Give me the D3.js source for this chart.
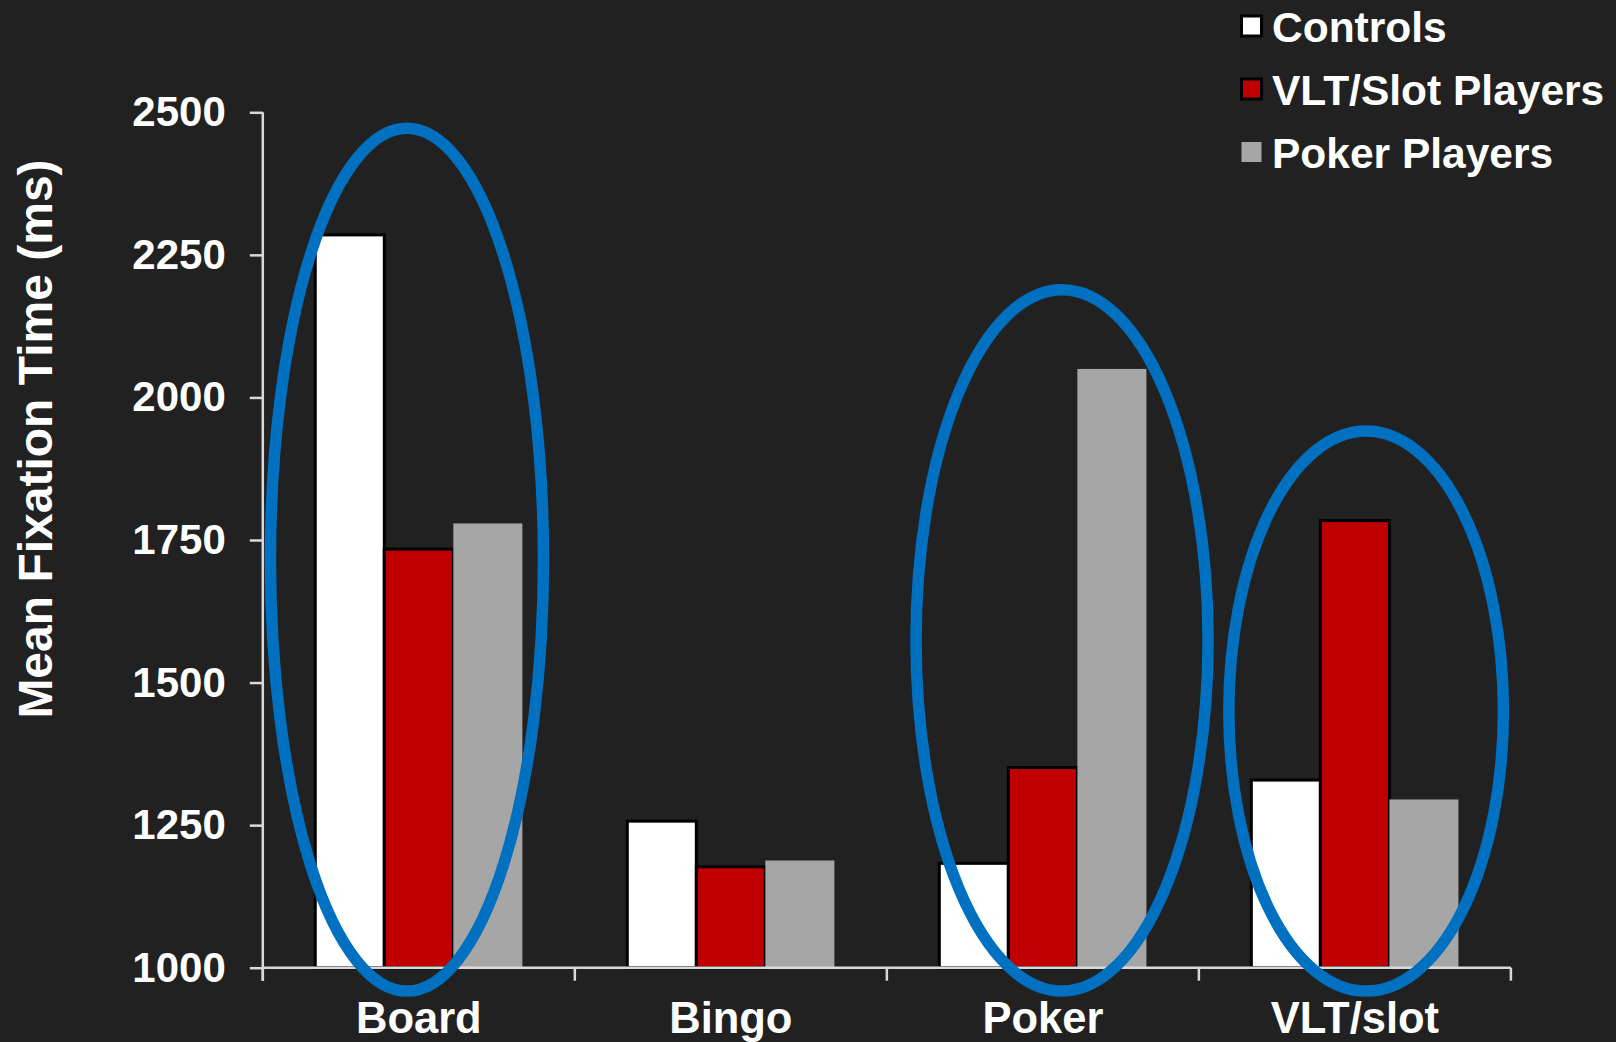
<!DOCTYPE html>
<html>
<head>
<meta charset="utf-8">
<script src="https://cdn.jsdelivr.net/npm/d3@7"></script>
<style>
  html, body { margin: 0; padding: 0; background: #212121; }
  svg { display: block; }
  text { font-family: "Liberation Sans", Arial, sans-serif; font-weight: bold; fill: #ffffff; }
</style>
</head>
<body>
<svg id="chart" width="1616" height="1042"></svg>
<script>
// Mean fixation time (ms) per game type, by participant group
const categories = ["Board", "Bingo", "Poker", "VLT/slot"];
const seriesNames = ["Controls", "VLT/Slot Players", "Poker Players"];
const controls = [2285, 1257, 1183, 1329];
const vltSlotPlayers = [1734, 1177, 1351, 1784];
const pokerPlayers = [1779, 1188, 2050, 1295];
const yTicks = [1000, 1250, 1500, 1750, 2000, 2250, 2500];

// Highlighted game types (ellipse spans in ms)
const highlightCategories = ["Board", "Poker", "VLT/slot"];
const highlightTop = [2472, 2189, 1941];
const highlightBottom = [959, 959, 959];

const seriesValues = [controls, vltSlotPlayers, pokerPlayers];
const seriesFill = ["#ffffff", "#c00000", "#a6a6a6"];
const seriesStroke = ["#000000", "#000000", "none"];

// ellipse horizontal shift and half-width, as fractions of a category band
const highlightShift = [-0.038, 0.0615, 0.036];
const highlightHalfWidth = [0.4375, 0.468, 0.44];

const svg = d3.select("#chart");
const axisColor = "#d9d9d9";
const fontFamily = "'Liberation Sans', Arial, sans-serif";

const x0 = d3.scaleBand().domain(categories).range([262.8, 1510.9]).padding(0);
const x1 = d3.scaleBand().domain(seriesNames).range([0, x0.bandwidth()])
  .paddingInner(0).paddingOuter(0.76);
const y = d3.scaleLinear().domain([1000, 2500]).range([967.7, 112.3]);

// bars
const rows = [];
categories.forEach((c, i) => {
  seriesNames.forEach((s, j) => rows.push({ cat: c, series: s, j, value: seriesValues[j][i] }));
});

svg.append("g").selectAll("rect").data(rows).join("rect")
  .attr("x", d => x0(d.cat) + x1(d.series))
  .attr("y", d => y(d.value))
  .attr("width", x1.bandwidth())
  .attr("height", d => y(1000) - y(d.value))
  .attr("fill", d => seriesFill[d.j])
  .attr("stroke", d => seriesStroke[d.j])
  .attr("stroke-width", 3);

// y axis
const yAxis = svg.append("g").attr("transform", `translate(${x0.range()[0]},0)`)
  .call(d3.axisLeft(y).tickValues(yTicks).tickFormat(d3.format("d"))
    .tickSize(13).tickSizeOuter(0).tickPadding(24));
yAxis.select(".domain").remove();
yAxis.selectAll(".tick line").attr("stroke", axisColor).attr("stroke-width", 2.5);
yAxis.selectAll(".tick text").attr("font-size", 42).attr("fill", "#ffffff")
  .attr("font-family", fontFamily).attr("font-weight", "bold");
svg.append("line")
  .attr("x1", x0.range()[0]).attr("x2", x0.range()[0])
  .attr("y1", y(2500)).attr("y2", y(1000) + 13)
  .attr("stroke", axisColor).attr("stroke-width", 2.5);

// x axis
svg.append("line")
  .attr("x1", x0.range()[0]).attr("x2", x0.range()[1])
  .attr("y1", y(1000)).attr("y2", y(1000))
  .attr("stroke", axisColor).attr("stroke-width", 2.5);
const bounds = categories.map(c => x0(c)).concat([x0.range()[1]]);
svg.append("g").selectAll("line").data(bounds).join("line")
  .attr("x1", d => d).attr("x2", d => d)
  .attr("y1", y(1000)).attr("y2", y(1000) + 13)
  .attr("stroke", axisColor).attr("stroke-width", 2.5);
const xAxis = svg.append("g").attr("transform", `translate(0,${y(1000)})`)
  .call(d3.axisBottom(x0).tickSize(0).tickPadding(34));
xAxis.select(".domain").remove();
xAxis.selectAll(".tick text").attr("font-size", 43.5).attr("fill", "#ffffff")
  .attr("font-family", fontFamily).attr("font-weight", "bold");

// axis title
svg.append("text")
  .attr("transform", `translate(52,${(y(1000) + y(2500)) / 2 - 101}) rotate(-90)`)
  .attr("text-anchor", "middle")
  .attr("font-size", 48)
  .text("Mean Fixation Time (ms)");

// highlight ellipses
svg.append("g").selectAll("ellipse").data(highlightCategories).join("ellipse")
  .attr("cx", (c, i) => x0(c) + x0.bandwidth() * (0.5 + highlightShift[i]))
  .attr("cy", (c, i) => (y(highlightTop[i]) + y(highlightBottom[i])) / 2)
  .attr("rx", (c, i) => x0.bandwidth() * highlightHalfWidth[i])
  .attr("ry", (c, i) => (y(highlightBottom[i]) - y(highlightTop[i])) / 2)
  .attr("fill", "none")
  .attr("stroke", "#0070c0")
  .attr("stroke-width", 11.5);

// legend
const legend = svg.append("g").attr("transform", "translate(1240,0)");
const legendRows = legend.selectAll("g").data(seriesNames).join("g")
  .attr("transform", (d, i) => `translate(0,${42 + i * 63})`);
legendRows.append("rect")
  .attr("x", 1.5)
  .attr("y", -26)
  .attr("width", 20).attr("height", 20)
  .attr("fill", (d, i) => seriesFill[i])
  .attr("stroke", (d, i) => seriesStroke[i])
  .attr("stroke-width", 3);
legendRows.append("text")
  .attr("x", 32).attr("y", 0)
  .attr("font-size", 42.5)
  .text(d => d);
</script>
</body>
</html>
